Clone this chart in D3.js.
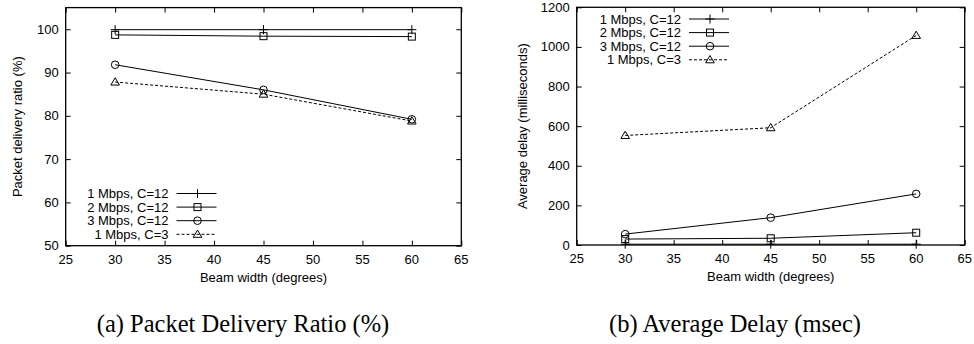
<!DOCTYPE html>
<html><head><meta charset="utf-8">
<script src="https://cdn.jsdelivr.net/npm/d3@7"></script>
<style>body{margin:0;background:#fff}svg{display:block}</style>
</head><body><svg id="c" width="974" height="344"></svg>
<script>
const beamWidths = [30, 45, 60];
const seriesNames = ["1 Mbps, C=12", "2 Mbps, C=12", "3 Mbps, C=12", "1 Mbps, C=3"];
const seriesMarkers = ["plus", "square", "circle", "triangle"];
const seriesDashed = [false, false, false, true];
const pdr1M12 = [99.9, 99.9, 99.9];
const pdr2M12 = [98.7, 98.4, 98.3];
const pdr3M12 = [91.8, 86.0, 79.2];
const pdr1M3 = [87.8, 85.0, 78.8];
const delay1M12 = [4, 4, 4];
const delay2M12 = [30, 34, 62];
const delay3M12 = [55, 138, 258];
const delay1M3 = [553, 592, 1058];
const xTicks = [25, 30, 35, 40, 45, 50, 55, 60, 65];
const pdrTicks = [50, 60, 70, 80, 90, 100];
const delayTicks = [0, 200, 400, 600, 800, 1000, 1200];

const svg = d3.select("#c");
const font = "'Liberation Sans', Arial, sans-serif";

function marker(g, type, x, y) {
  if (type === "plus") {
    g.append("path").attr("d", `M${x-4.5},${y}H${x+4.5}M${x},${y-4.5}V${y+4.5}`)
      .attr("stroke", "#000").attr("stroke-width", 1).attr("fill", "none");
  } else if (type === "square") {
    g.append("rect").attr("x", x-3.5).attr("y", y-3.5).attr("width", 7).attr("height", 7)
      .attr("stroke", "#000").attr("fill", "none");
  } else if (type === "circle") {
    g.append("circle").attr("cx", x).attr("cy", y).attr("r", 3.8)
      .attr("stroke", "#000").attr("fill", "none");
  } else {
    g.append("path").attr("d", `M${x},${y-4.3}L${x+4.3},${y+3}L${x-4.3},${y+3}Z`)
      .attr("stroke", "#000").attr("fill", "none");
  }
}

function chart(cfg) {
  const x = d3.scaleLinear().domain([25, 65]).range([cfg.left, cfg.right]);
  const y = d3.scaleLinear().domain(cfg.yDomain).range([cfg.bottom, cfg.top]);
  const g = svg.append("g").attr("font-family", font).attr("font-size", 13);
  const ax = (sel) => sel.selectAll("path").remove();
  g.append("g").attr("transform", `translate(0,${cfg.bottom})`)
    .call(d3.axisTop(x).tickValues(xTicks).tickSize(5).tickFormat("")).call(ax);
  g.append("g").attr("transform", `translate(0,${cfg.top})`)
    .call(d3.axisBottom(x).tickValues(xTicks).tickSize(5).tickFormat("")).call(ax);
  g.append("g").attr("transform", `translate(${cfg.left},0)`)
    .call(d3.axisRight(y).tickValues(cfg.yTicks).tickSize(5).tickFormat("")).call(ax);
  g.append("g").attr("transform", `translate(${cfg.right},0)`)
    .call(d3.axisLeft(y).tickValues(cfg.yTicks).tickSize(5).tickFormat("")).call(ax);
  g.selectAll(".tick line").attr("stroke", "#000");
  xTicks.forEach(v => g.append("text").attr("x", x(v)).attr("y", cfg.bottom + 18)
    .attr("text-anchor", "middle").attr("fill", "#000").text(v));
  cfg.yTicks.forEach(v => g.append("text").attr("x", cfg.left - 7).attr("y", y(v) + 4.5)
    .attr("text-anchor", "end").attr("fill", "#000").text(v));
  g.append("rect").attr("x", cfg.left).attr("y", cfg.top)
    .attr("width", cfg.right - cfg.left).attr("height", cfg.bottom - cfg.top)
    .attr("fill", "none").attr("stroke", "#000").attr("stroke-width", 1.3);
  const line = d3.line().x((d, i) => x(beamWidths[i])).y(d => y(d));
  cfg.data.forEach((vals, k) => {
    g.append("path").attr("d", line(vals)).attr("fill", "none").attr("stroke", "#000")
      .attr("stroke-width", 1).attr("stroke-dasharray", seriesDashed[k] ? "3,2" : null);
    vals.forEach((v, i) => marker(g, seriesMarkers[k], x(beamWidths[i]), y(v)));
  });
  seriesNames.forEach((n, k) => {
    const ly = cfg.legY + k * 13.6;
    g.append("text").attr("x", cfg.legX).attr("y", ly + 4.5).attr("text-anchor", "end")
      .attr("fill", "#000").text(n);
    g.append("line").attr("x1", cfg.legX + 8).attr("x2", cfg.legX + 48).attr("y1", ly).attr("y2", ly)
      .attr("stroke", "#000").attr("stroke-dasharray", seriesDashed[k] ? "3,2" : null);
    marker(g, seriesMarkers[k], cfg.legX + 29, ly);
  });
  g.append("text").attr("x", (cfg.left + cfg.right) / 2).attr("y", cfg.bottom + 36)
    .attr("text-anchor", "middle").attr("fill", "#000").text("Beam width (degrees)");
  g.append("text").attr("transform", `translate(${cfg.yLabX},${(cfg.top + cfg.bottom) / 2}) rotate(-90)`)
    .attr("text-anchor", "middle").attr("fill", "#000").text(cfg.yLabel);
  svg.append("text").attr("x", cfg.capX).attr("y", 332).attr("text-anchor", "middle")
    .attr("font-family", "'Liberation Serif', 'Times New Roman', serif").attr("font-size", 24.5)
    .attr("fill", "#000").text(cfg.caption);
}

chart({left: 65.7, right: 461.3, top: 7.6, bottom: 245.7, yDomain: [50, 105], yTicks: pdrTicks,
  data: [pdr1M12, pdr2M12, pdr3M12, pdr1M3], legX: 168.5, legY: 193.5,
  yLabel: "Packet delivery ratio (%)", yLabX: 22, caption: "(a) Packet Delivery Ratio (%)", capX: 243});
chart({left: 576.7, right: 964.7, top: 7.3, bottom: 245, yDomain: [0, 1200], yTicks: delayTicks,
  data: [delay1M12, delay2M12, delay3M12, delay1M3], legX: 681, legY: 19,
  yLabel: "Average delay (milliseconds)", yLabX: 527, caption: "(b) Average Delay (msec)", capX: 735});
</script></body></html>
